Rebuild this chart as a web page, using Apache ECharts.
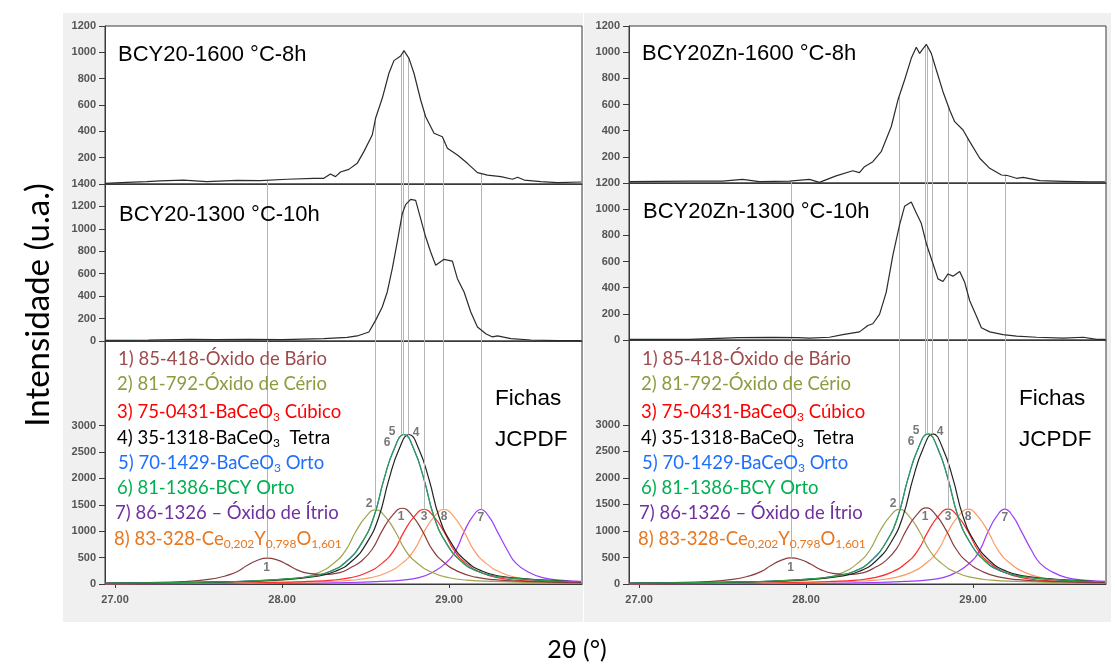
<!DOCTYPE html>
<html><head><meta charset="utf-8">
<script src="https://cdn.jsdelivr.net/npm/echarts@6/dist/echarts.min.js"></script>
<style>html,body{margin:0;padding:0;background:#fff}#c{width:1115px;height:665px}</style>
</head><body><div id="c"></div>
<script>
// ---------- axis ranges / ticks ----------
const xMin = 26.94, xMax = 29.796;
const xTicks = [27, 28, 29];
const topTicks = [200, 400, 600, 800, 1000, 1200];
const midTicksL = [0, 200, 400, 600, 800, 1000, 1200, 1400];
const midTicksR = [0, 200, 400, 600, 800, 1000, 1200];
const botTicks = [0, 500, 1000, 1500, 2000, 2500, 3000];

// ---------- measured XRD patterns [2theta, intensity] ----------
const bcy1600 = [[26.94,5],[27.07,13],[27.19,18],[27.27,23],[27.41,30],[27.55,18],[27.73,28],[27.87,25],[28.03,36],[28.19,43],[28.25,43],[28.29,76],[28.32,56],[28.35,91],[28.4,111],[28.45,157],[28.49,246],[28.54,372],[28.56,499],[28.6,651],[28.64,841],[28.67,937],[28.71,972],[28.73,1013],[28.76,954],[28.79,841],[28.83,638],[28.86,511],[28.91,385],[28.96,359],[28.99,271],[29.05,220],[29.11,157],[29.17,86],[29.23,68],[29.31,56],[29.38,36],[29.41,51],[29.45,30],[29.55,18],[29.65,10],[29.79,15]];
const bcy1300 = [[26.94,5],[27.2,8],[27.45,15],[27.6,12],[27.8,15],[28.0,12],[28.25,21],[28.39,33],[28.45,45],[28.52,80],[28.56,184],[28.6,303],[28.63,437],[28.66,645],[28.69,883],[28.72,1135],[28.74,1216],[28.77,1263],[28.8,1254],[28.83,1091],[28.86,927],[28.89,794],[28.92,675],[28.97,728],[29.02,713],[29.05,556],[29.09,437],[29.13,259],[29.17,125],[29.22,65],[29.26,36],[29.29,45],[29.37,21],[29.49,9],[29.65,3],[29.79,3]];
const bcyZn1600 = [[26.94,10],[27.1,12],[27.3,14],[27.5,15],[27.62,28],[27.72,10],[27.9,15],[28.02,28],[28.08,5],[28.18,54],[28.28,94],[28.32,79],[28.35,125],[28.4,163],[28.45,239],[28.51,430],[28.55,634],[28.59,787],[28.63,953],[28.66,1037],[28.68,991],[28.72,1060],[28.75,991],[28.78,864],[28.82,698],[28.86,558],[28.89,469],[28.94,405],[28.98,316],[29.04,189],[29.1,112],[29.17,61],[29.2,59],[29.26,36],[29.3,43],[29.4,18],[29.54,13],[29.7,8],[29.79,8]];
const bcyZn1300 = [[26.94,5],[27.3,5],[27.6,18],[27.8,20],[27.95,18],[28.02,15],[28.14,21],[28.22,41],[28.32,62],[28.37,111],[28.4,124],[28.44,196],[28.48,364],[28.52,648],[28.56,880],[28.59,1022],[28.63,1055],[28.66,970],[28.69,892],[28.72,738],[28.76,583],[28.79,467],[28.82,447],[28.85,505],[28.88,488],[28.92,524],[28.95,441],[28.98,300],[29.02,183],[29.05,93],[29.1,62],[29.18,41],[29.26,29],[29.38,21],[29.54,15],[29.66,21],[29.74,5],[29.79,5]];

// ---------- JCPDF reference profiles ----------
const jc1 = [[26.94,15],[27.2,27],[27.4,44],[27.56,86],[27.66,152],[27.73,233],[27.79,350],[27.85,445],[27.91,491],[27.97,457],[28.03,372],[28.09,267],[28.16,200],[28.25,178],[28.34,210],[28.42,325],[28.47,421],[28.54,658],[28.6,1011],[28.66,1293],[28.72,1434],[28.78,1291],[28.84,1006],[28.9,650],[28.97,408],[29.06,229],[29.16,129],[29.27,81],[29.42,54],[29.64,32],[29.79,25]];
const jc2 = [[26.94,8],[27.31,15],[27.64,28],[27.86,48],[28.01,73],[28.12,119],[28.22,218],[28.31,393],[28.38,632],[28.44,984],[28.5,1265],[28.56,1405],[28.62,1265],[28.68,984],[28.74,632],[28.81,393],[28.9,218],[29.0,119],[29.11,73],[29.26,48],[29.48,28],[29.79,15]];
const jc3 = [[26.94,5],[27.15,8],[27.6,16],[27.93,28],[28.15,48],[28.3,73],[28.41,120],[28.51,219],[28.6,395],[28.67,635],[28.73,987],[28.79,1269],[28.85,1410],[28.91,1269],[28.97,987],[29.03,635],[29.1,395],[29.19,219],[29.29,120],[29.4,73],[29.55,48],[29.79,27]];
const jc4 = [[26.94,14],[27.06,17],[27.51,31],[27.84,57],[28.06,96],[28.21,147],[28.32,241],[28.42,439],[28.51,792],[28.58,1274],[28.64,1981],[28.7,2547],[28.76,2830],[28.82,2547],[28.88,1981],[28.94,1274],[29.01,792],[29.1,439],[29.2,241],[29.31,147],[29.46,96],[29.68,57],[29.79,45]];
const jc5 = [[26.94,14],[27.03,17],[27.48,31],[27.81,57],[28.03,96],[28.18,147],[28.29,241],[28.39,439],[28.48,792],[28.55,1274],[28.61,1981],[28.67,2547],[28.73,2830],[28.79,2547],[28.85,1981],[28.91,1274],[28.98,792],[29.07,439],[29.17,241],[29.28,147],[29.43,96],[29.65,57],[29.79,47]];
const jc6 = [[26.94,14],[27.03,17],[27.48,31],[27.81,57],[28.03,96],[28.18,147],[28.29,241],[28.39,439],[28.48,792],[28.55,1274],[28.61,1981],[28.67,2547],[28.73,2830],[28.79,2547],[28.85,1981],[28.91,1274],[28.98,792],[29.07,439],[29.17,241],[29.28,147],[29.43,96],[29.65,57],[29.79,47]];
const jc7 = [[26.94,2],[27.74,8],[28.13,16],[28.41,28],[28.59,48],[28.72,73],[28.82,120],[28.9,219],[28.98,395],[29.04,635],[29.09,987],[29.14,1269],[29.19,1410],[29.24,1269],[29.29,987],[29.35,635],[29.4,395],[29.48,219],[29.56,120],[29.66,73],[29.79,48]];
const jc8 = [[26.94,4],[27.27,8],[27.72,16],[28.05,28],[28.27,48],[28.42,73],[28.53,120],[28.63,219],[28.72,395],[28.79,635],[28.85,987],[28.91,1269],[28.97,1410],[29.03,1269],[29.09,987],[29.15,635],[29.22,395],[29.31,219],[29.41,120],[29.52,73],[29.67,48],[29.79,36]];

// ---------- reference line positions and peak tops ----------
const peakPos = [27.91, 28.557, 28.713, 28.725, 28.756, 28.85, 28.965, 29.19];
const peakTop = [495, 1405, 2830, 2830, 2830, 1410, 1410, 1410];
// peak number labels [text, 2theta, intensity]
const peakLabels = [['1',27.908,304],['2',28.521,1519],['1',28.713,1272],['3',28.85,1272],['8',28.97,1272],['7',29.19,1253],['5',28.659,2886],['6',28.629,2678],['4',28.802,2867]];

// ---------- texts ----------
const titlesL = ['BCY20-1600 °C-8h', 'BCY20-1300 °C-10h'];
const titlesR = ['BCY20Zn-1600 °C-8h', 'BCY20Zn-1300 °C-10h'];
const legendText = [
  [['a','1) 85-418-Óxido de Bário']],
  [['a','2) 81-792-Óxido de Cério']],
  [['a','3) 75-0431-BaCeO'],['s','3'],['a',' Cúbico']],
  [['a','4) 35-1318-BaCeO'],['s','3'],['a','  Tetra']],
  [['a','5) 70-1429-BaCeO'],['s','3'],['a',' Orto']],
  [['a','6) 81-1386-BCY Orto']],
  [['a','7) 86-1326 – Óxido de Ítrio']],
  [['a','8) 83-328-Ce'],['s','0,202'],['a','Y'],['s','0,798'],['a','O'],['s','1,601']]
];
const legendColors = ['#9e4b4b','#8d9c3e','#ff0000','#000000','#1f6fff','#00b050','#7030a0','#e8761e'];
const curveColors = ['#8b3e3e','#a3a34c','#ff2a2a','#222222','#3366ff','#2ea043','#9b3cff','#ff9a66'];
const jcData = [jc1, jc2, jc3, jc4, jc5, jc6, jc7, jc8];
const drawOrder = [6, 7, 2, 1, 0, 4, 3, 5];

function interp(d, x) {
  for (let i = 0; i < d.length - 1; i++) {
    if (x >= d[i][0] && x <= d[i+1][0]) {
      const t = (x - d[i][0]) / (d[i+1][0] - d[i][0]);
      return d[i][1] + t * (d[i+1][1] - d[i][1]);
    }
  }
  return 0;
}

const panels = [
  {left:105, tops:[26,184,341], hs:[158,157,243], midMax:1400, midTicks:midTicksL, top:bcy1600, mid:bcy1300, titles:titlesL, dx:0},
  {left:629, tops:[26,183,340], hs:[157,157,244], midMax:1200, midTicks:midTicksR, top:bcyZn1600, mid:bcyZn1300, titles:titlesR, dx:524}
];
const PW = 477;
const axisCol = '#3a3a3a';
const grids = [], xAxes = [], yAxes = [], series = [], graphics = [];

graphics.push({type:'rect', shape:{x:63, y:13, width:520, height:609}, style:{fill:'#f0f0f0'}, z:-100, silent:true});
graphics.push({type:'rect', shape:{x:584, y:13, width:527, height:609}, style:{fill:'#f0f0f0'}, z:-100, silent:true});

const mlBase = {symbol:['none','none'], silent:true, animation:false, label:{show:false}, emphasis:{disabled:true}, lineStyle:{color:'#b5b5b5', width:1, type:'solid'}};

panels.forEach((P, pi) => {
  for (let k = 0; k < 3; k++) {
    const gi = pi * 3 + k;
    const isBot = k === 2;
    grids.push({left:P.left, top:P.tops[k], width:PW, height:P.hs[k], show:true, backgroundColor:'#fff', borderColor:axisCol, borderWidth:1, outerBoundsMode:'none', containLabel:false});
    xAxes.push({type:'value', gridIndex:gi, min:xMin, max:xMax, splitLine:{show:false},
      axisLine:{show:true, onZero:false, lineStyle:{color:axisCol, width:1}},
      axisTick:{show:isBot, customValues:xTicks, length:4, lineStyle:{color:axisCol}},
      axisLabel:{show:isBot, customValues:xTicks, formatter:v => v.toFixed(2), fontSize:11, fontWeight:'bold', color:'#555', margin:10, fontFamily:'Liberation Sans'}});
    const ymax = k === 0 ? 1200 : (k === 1 ? P.midMax : 4600);
    const yt = k === 0 ? topTicks : (k === 1 ? P.midTicks : botTicks);
    yAxes.push({type:'value', gridIndex:gi, min:0, max:ymax, splitLine:{show:false},
      axisLine:{show:true, onZero:false, lineStyle:{color:axisCol}},
      axisTick:{show:true, customValues:yt, length:6, lineStyle:{color:axisCol}},
      axisLabel:{customValues:yt, formatter:v => String(Math.round(v)), fontSize:11, fontWeight:'bold', color:'#555', margin:9, fontFamily:'Liberation Sans'}});
    let mlData;
    if (k === 0) mlData = peakPos.map(x => [{coord:[x, 0]}, {coord:[x, interp(P.top, x)]}]);
    else if (k === 1) mlData = peakPos.map(x => [{coord:[x, 0]}, {coord:[x, ymax]}]);
    else mlData = peakPos.map((x, i) => [{coord:[x, peakTop[i]]}, {coord:[x, ymax]}]);
    series.push({type:'line', xAxisIndex:gi, yAxisIndex:gi, data:[[xMin, 0]], showSymbol:false, symbol:'none', lineStyle:{opacity:0}, z:1, silent:true,
      markLine:Object.assign({data:mlData}, mlBase)});
  }
  [P.top, P.mid].forEach((d, k) => {
    series.push({type:'line', xAxisIndex:pi*3+k, yAxisIndex:pi*3+k, data:d, symbol:'none', smooth:false,
      lineStyle:{color:'#2b2b2b', width:1.2}, z:5, silent:true});
  });
  drawOrder.forEach((ci, o) => {
    series.push({type:'line', xAxisIndex:pi*3+2, yAxisIndex:pi*3+2, data:jcData[ci], symbol:'none', smooth:true,
      lineStyle:{color:curveColors[ci], width:1.2}, z:3 + o * 0.01, silent:true});
  });
  series.push({type:'scatter', xAxisIndex:pi*3+2, yAxisIndex:pi*3+2, symbolSize:0, z:10, silent:true,
    data:peakLabels.map(l => [l[1], l[2], l[0]]),
    label:{show:true, position:'inside', formatter:p => p.data[2], color:'#555', fontSize:12, fontWeight:'bold', fontFamily:'Liberation Sans'}});

  graphics.push({type:'text', x:118 + P.dx, y:55 - pi, z:50, silent:true, style:{text:P.titles[0], fontFamily:'Liberation Sans', fontSize:22, fill:'#000', verticalAlign:'middle', align:'left'}});
  graphics.push({type:'text', x:119 + P.dx, y:215 - pi * 3, z:50, silent:true, style:{text:P.titles[1], fontFamily:'Liberation Sans', fontSize:22, fill:'#000', verticalAlign:'middle', align:'left'}});
  const ly = [359, 384, 412, 438, 463, 488, 513, 539];
  const lx = [118, 117, 117, 117, 118, 117, 115, 114];
  legendText.forEach((parts, i) => {
    const txt = parts.map(p => '{' + p[0] + '|' + p[1] + '}').join('');
    graphics.push({type:'text', x:lx[i] + P.dx, y:ly[i], z:50, silent:true, style:{text:txt, verticalAlign:'middle', align:'left',
      rich:{a:{fontFamily:'Lato', fontSize:18.5, fill:legendColors[i], color:legendColors[i], lineHeight:22},
            s:{fontFamily:'Lato', fontSize:12, fill:legendColors[i], color:legendColors[i], lineHeight:12, verticalAlign:'bottom'}}}});
  });
  graphics.push({type:'text', x:495 + P.dx, y:399, z:50, silent:true, style:{text:'Fichas', fontFamily:'Liberation Sans', fontSize:22.5, fill:'#000', verticalAlign:'middle', align:'left'}});
  graphics.push({type:'text', x:495 + P.dx, y:440, z:50, silent:true, style:{text:'JCPDF', fontFamily:'Liberation Sans', fontSize:22.5, fill:'#000', verticalAlign:'middle', align:'left'}});
});

graphics.push({type:'text', x:38, y:305, rotation:Math.PI/2, z:50, silent:true, style:{text:'Intensidade (u.a.)', fontFamily:'Lato', fontSize:33, fill:'#000', align:'center', verticalAlign:'middle'}});
graphics.push({type:'text', x:577, y:650, z:50, silent:true, style:{text:'2θ (°)', fontFamily:'Lato', fontSize:25, fill:'#000', align:'center', verticalAlign:'middle'}});

const chart = echarts.init(document.getElementById('c'));
chart.setOption({
  animation:false,
  backgroundColor:'#fff',
  grid:grids, xAxis:xAxes, yAxis:yAxes, series:series,
  graphic:{elements:graphics}
});
</script></body></html>
